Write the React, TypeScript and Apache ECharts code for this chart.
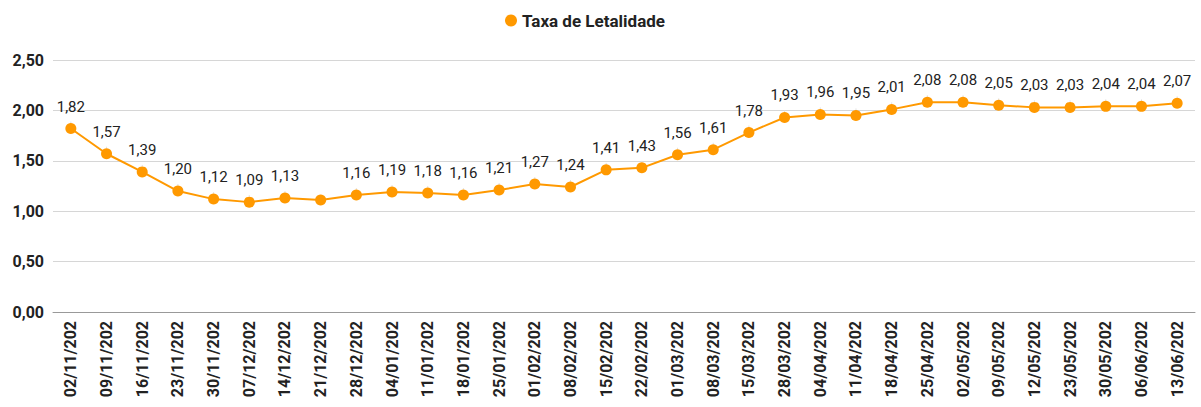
import React, { useEffect, useRef } from "react";
import * as echarts from "echarts";

const categories = [
  "02/11/202", "09/11/202", "16/11/202", "23/11/202", "30/11/202", "07/12/202",
  "14/12/202", "21/12/202", "28/12/202", "04/01/202", "11/01/202", "18/01/202",
  "25/01/202", "01/02/202", "08/02/202", "15/02/202", "22/02/202", "01/03/202",
  "08/03/202", "15/03/202", "28/03/202", "04/04/202", "11/04/202", "18/04/202",
  "25/04/202", "02/05/202", "09/05/202", "12/05/202", "23/05/202", "30/05/202",
  "06/06/202", "13/06/202",
];

const letalidade = [
  1.82, 1.57, 1.39, 1.2, 1.12, 1.09, 1.13, 1.11, 1.16, 1.19, 1.18, 1.16, 1.21,
  1.27, 1.24, 1.41, 1.43, 1.56, 1.61, 1.78, 1.93, 1.96, 1.95, 2.01, 2.08, 2.08,
  2.05, 2.03, 2.03, 2.04, 2.04, 2.07,
];

const hiddenLabelIdx = [7];

const fmt = (v: number) => v.toFixed(2).replace(".", ",");

export default function App() {
  const ref = useRef<HTMLDivElement>(null);
  useEffect(() => {
    document.body.style.margin = "0";
    if (!ref.current) return;
    const chart = echarts.init(ref.current, undefined, { renderer: "svg" });
    chart.setOption({
      animation: false,
      textStyle: { fontFamily: "Roboto" },
      legend: {
        top: 7,
        left: 500,
        icon: "circle",
        itemWidth: 12,
        itemHeight: 12,
        textStyle: { fontSize: 17, fontWeight: "bold", color: "#222", fontFamily: "Roboto" },
        data: ["Taxa de Letalidade"],
      },
      grid: { left: 53, right: 6, top: 60, bottom: 95 },
      xAxis: {
        type: "category",
        data: categories,
        boundaryGap: true,
        axisLine: { lineStyle: { color: "#999" } },
        axisTick: { show: false },
        axisLabel: {
          rotate: 90,
          interval: 0,
          fontSize: 16,
          fontWeight: "bold",
          color: "#222",
          margin: 9,
          fontFamily: "Roboto",
        },
      },
      yAxis: {
        type: "value",
        min: 0,
        max: 2.5,
        interval: 0.5,
        axisLine: { show: false },
        axisTick: { show: false },
        splitLine: { lineStyle: { color: "#d6d6d6", width: 1 } },
        axisLabel: {
          formatter: (v: number) => fmt(v),
          fontSize: 16,
          fontWeight: "bold",
          color: "#222",
          margin: 9,
          fontFamily: "Roboto",
        },
      },
      series: [
        {
          name: "Taxa de Letalidade",
          type: "line",
          data: letalidade.map((v, i) => ({
            value: v,
            label: { show: !hiddenLabelIdx.includes(i) },
          })),
          symbol: "circle",
          symbolSize: 11,
          itemStyle: { color: "#FF9900" },
          lineStyle: { color: "#FF9900", width: 2 },
          label: {
            show: true,
            position: "top",
            distance: 9,
            fontSize: 15,
            color: "#222",
            fontFamily: "Roboto",
            formatter: (p: any) => fmt(p.value),
          },
          labelLine: { show: true, lineStyle: { color: "#e0e0e0", width: 1 } },
        },
      ],
    });
    return () => chart.dispose();
  }, []);
  return <div ref={ref} style={{ width: 1201, height: 407 }} />;
}
